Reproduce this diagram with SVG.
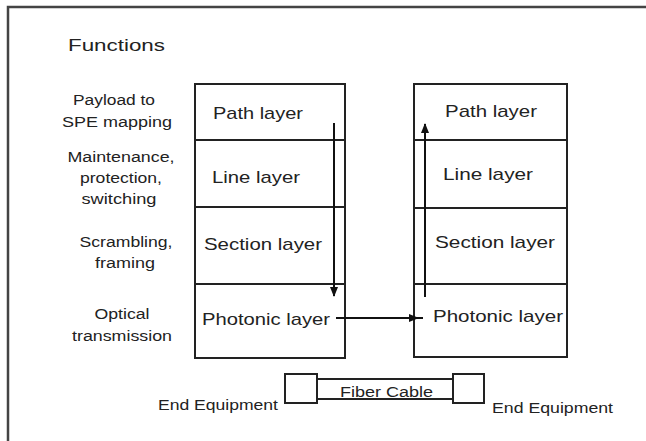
<svg xmlns="http://www.w3.org/2000/svg" width="646" height="441" viewBox="0 0 646 441">
<style>
text{font-family:"Liberation Sans",Arial,sans-serif;fill:#222}
.box{fill:none;stroke:#222;stroke-width:2}
.lbl{font-size:17px}
.fn{font-size:14px;text-anchor:middle}
.con{stroke:#111;stroke-width:2;fill:none}
</style>
<defs>
<marker id="ah" viewBox="0 0 10 10" refX="9" refY="5" markerWidth="5" markerHeight="5" orient="auto" markerUnits="strokeWidth">
<path d="M0,1 L10,5 L0,9 Z" fill="#111"/>
</marker>
</defs>
<rect width="646" height="441" fill="#fff"/>
<path d="M8,441 L8,7 L646,7" fill="none" stroke="#444" stroke-width="2.5"/>
<text x="68" y="51" style="font-size:17px" textLength="97" lengthAdjust="spacingAndGlyphs">Functions</text>
<g id="functions">
<text class="fn" x="114" y="105" textLength="82" lengthAdjust="spacingAndGlyphs">Payload to</text>
<text class="fn" x="117" y="127" textLength="110" lengthAdjust="spacingAndGlyphs">SPE mapping</text>
<text class="fn" x="121" y="162" textLength="107" lengthAdjust="spacingAndGlyphs">Maintenance,</text>
<text class="fn" x="121" y="183" textLength="82" lengthAdjust="spacingAndGlyphs">protection,</text>
<text class="fn" x="119" y="204" textLength="75" lengthAdjust="spacingAndGlyphs">switching</text>
<text class="fn" x="126" y="247" textLength="93" lengthAdjust="spacingAndGlyphs">Scrambling,</text>
<text class="fn" x="125" y="268" textLength="60" lengthAdjust="spacingAndGlyphs">framing</text>
<text class="fn" x="122" y="319" textLength="55" lengthAdjust="spacingAndGlyphs">Optical</text>
<text class="fn" x="122" y="341" textLength="100" lengthAdjust="spacingAndGlyphs">transmission</text>
</g>
<g id="left-stack">
<rect class="box" x="195" y="84" width="150" height="274"/>
<line class="box" x1="195" y1="140" x2="345" y2="140"/>
<line class="box" x1="195" y1="207" x2="345" y2="207"/>
<line class="box" x1="195" y1="284" x2="345" y2="284"/>
<text class="lbl" x="213" y="119" textLength="90" lengthAdjust="spacingAndGlyphs">Path layer</text>
<text class="lbl" x="212" y="183" textLength="88" lengthAdjust="spacingAndGlyphs">Line layer</text>
<text class="lbl" x="204" y="250" textLength="118" lengthAdjust="spacingAndGlyphs">Section layer</text>
<text class="lbl" x="202" y="325" textLength="128" lengthAdjust="spacingAndGlyphs">Photonic layer</text>
</g>
<g id="right-stack">
<rect class="box" x="414" y="84" width="153" height="273"/>
<line class="box" x1="414" y1="140" x2="567" y2="140"/>
<line class="box" x1="414" y1="208" x2="567" y2="208"/>
<line class="box" x1="414" y1="284" x2="567" y2="284"/>
<text class="lbl" x="445" y="117" textLength="92" lengthAdjust="spacingAndGlyphs">Path layer</text>
<text class="lbl" x="443" y="180" textLength="90" lengthAdjust="spacingAndGlyphs">Line layer</text>
<text class="lbl" x="435" y="248" textLength="120" lengthAdjust="spacingAndGlyphs">Section layer</text>
<text class="lbl" x="433" y="322" textLength="130" lengthAdjust="spacingAndGlyphs">Photonic layer</text>
</g>
<g id="fiber">
<rect class="box" x="285" y="374" width="32" height="29"/>
<rect class="box" x="453" y="374" width="31" height="29"/>
<line class="box" x1="317" y1="379" x2="453" y2="379"/>
<line class="box" x1="317" y1="399" x2="453" y2="399"/>
<text x="340" y="397" style="font-size:14px" textLength="93" lengthAdjust="spacingAndGlyphs">Fiber Cable</text>
<text x="158" y="410" style="font-size:15px" textLength="120" lengthAdjust="spacingAndGlyphs">End Equipment</text>
<text x="492" y="413" style="font-size:15px" textLength="121" lengthAdjust="spacingAndGlyphs">End Equipment</text>
</g>
<g id="connectors">
<line class="con" x1="334" y1="123" x2="334" y2="296" marker-end="url(#ah)"/>
<line class="con" x1="336" y1="318" x2="418" y2="318" marker-end="url(#ah)"/>
<line class="con" x1="418" y1="318" x2="423" y2="318"/>
<line class="con" x1="425" y1="297" x2="425" y2="124" marker-end="url(#ah)"/>
</g>
</svg>
